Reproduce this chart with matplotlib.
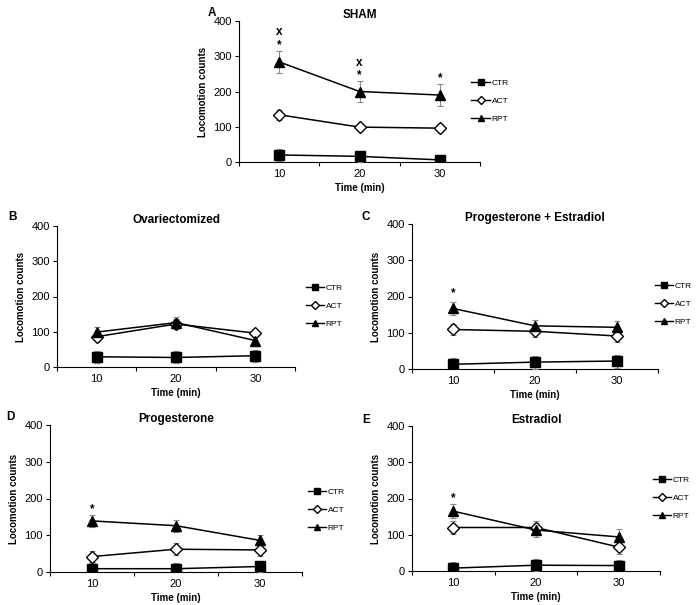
import matplotlib.pyplot as plt
from matplotlib.lines import Line2D

plt.rcParams['font.family'] = ['Liberation Sans', 'DejaVu Sans']

times = [10, 20, 30]
groups = ['CTR', 'ACT', 'RPT']

# panel data: means and errors per group
sham_mean = {'CTR': [20, 16, 6], 'ACT': [134, 99, 96], 'RPT': [284, 200, 190]}
sham_err = {'CTR': [17, 16, 15], 'ACT': [14, 12, 11], 'RPT': [31, 30, 30]}

ovx_mean = {'CTR': [29, 27, 32], 'ACT': [86, 122, 96], 'RPT': [99, 126, 75]}
ovx_err = {'CTR': [17, 17, 17], 'ACT': [13, 14, 10], 'RPT': [15, 15, 15]}

pe_mean = {'CTR': [13, 19, 22], 'ACT': [109, 104, 91], 'RPT': [167, 119, 115]}
pe_err = {'CTR': [17, 18, 18], 'ACT': [16, 16, 16], 'RPT': [17, 17, 17]}

prog_mean = {'CTR': [9, 9, 15], 'ACT': [42, 62, 60], 'RPT': [139, 126, 86]}
prog_err = {'CTR': [15, 15, 15], 'ACT': [16, 16, 16], 'RPT': [16, 16, 16]}

estr_mean = {'CTR': [8, 16, 15], 'ACT': [120, 120, 66], 'RPT': [165, 113, 94]}
estr_err = {'CTR': [16, 17, 16], 'ACT': [18, 18, 18], 'RPT': [20, 20, 21]}

# significance marks: (time, value, text)
sham_marks = [(10, 331, '*'), (10, 368, 'x'), (20, 245, '*'), (20, 282, 'x'), (30, 237, '*')]
pe_marks = [(10, 208, '*')]
prog_marks = [(10, 172, '*')]
estr_marks = [(10, 202, '*')]

styles = {
    'CTR': dict(marker='s', mfc='black', mec='black', ms=6.5),
    'ACT': dict(marker='D', mfc='white', mec='black', ms=5.8),
    'RPT': dict(marker='^', mfc='black', mec='black', ms=7.8),
}

W, H = 700, 605
fig = plt.figure(figsize=(W / 100, H / 100), dpi=100)


def px_axes(left, top, right, bottom):
    return fig.add_axes([left / W, 1 - bottom / H, (right - left) / W, (bottom - top) / H])


def panel(rect, title, letter, letter_xy, means, errs, marks, leg_xy):
    ax = px_axes(*rect)
    for g in groups:
        ax.errorbar(times, means[g], yerr=errs[g], color='black', lw=1.1,
                    ecolor='#8a8a8a', elinewidth=0.8, capsize=2.5, capthick=0.8,
                    zorder=3, **styles[g])
    for t, v, s in marks:
        ax.text(t, v, s, ha='center', va='center', fontsize=8.5, fontweight='bold')
    ax.set_xlim(5, 35)
    ax.set_ylim(0, 400)
    ax.set_yticks([0, 100, 200, 300, 400])
    ax.set_xticks(times)
    ax.set_xticks([5, 15, 25, 35], minor=True)
    ax.tick_params(axis='x', which='major', length=0, labelsize=8, pad=5)
    ax.tick_params(axis='x', which='minor', length=3, width=0.8, direction='out')
    ax.tick_params(axis='y', length=3, width=0.8, labelsize=8, pad=2)
    for s in ['top', 'right']:
        ax.spines[s].set_visible(False)
    for s in ['left', 'bottom']:
        ax.spines[s].set_linewidth(0.8)
    ax.set_title(title, fontsize=8.5, fontweight='bold', pad=2)
    ax.set_xlabel('Time (min)', fontsize=7, fontweight='bold', labelpad=3)
    ax.set_ylabel('Locomotion counts', fontsize=7, fontweight='bold', labelpad=4)
    fig.text(letter_xy[0] / W, 1 - letter_xy[1] / H, letter, fontsize=8.5,
             fontweight='bold', ha='left', va='center')
    handles = [Line2D([], [], color='black', lw=1.0, marker=styles[g]['marker'],
                      mfc=styles[g]['mfc'], mec='black', ms=4) for g in groups]
    fig.legend(handles, groups, loc='center left', frameon=False, fontsize=6,
               bbox_to_anchor=(leg_xy[0] / W, 1 - leg_xy[1] / H),
               handlelength=2.2, handletextpad=0.2, labelspacing=1.2)
    return ax


panel((239, 21, 480, 162), 'SHAM', 'A', (208, 13), sham_mean, sham_err, sham_marks, (464, 101))
panel((57, 226, 295, 367), 'Ovariectomized', 'B', (8, 217), ovx_mean, ovx_err, [], (298, 306))
panel((412, 224, 658, 369), 'Progesterone + Estradiol', 'C', (362, 217), pe_mean, pe_err, pe_marks, (647, 304))
panel((50, 425, 302, 572), 'Progesterone', 'D', (6, 417), prog_mean, prog_err, prog_marks, (300, 510))
panel((412, 426, 660, 571), 'Estradiol', 'E', (362, 420), estr_mean, estr_err, estr_marks, (645, 498))

fig.savefig('out.png', dpi=100)
